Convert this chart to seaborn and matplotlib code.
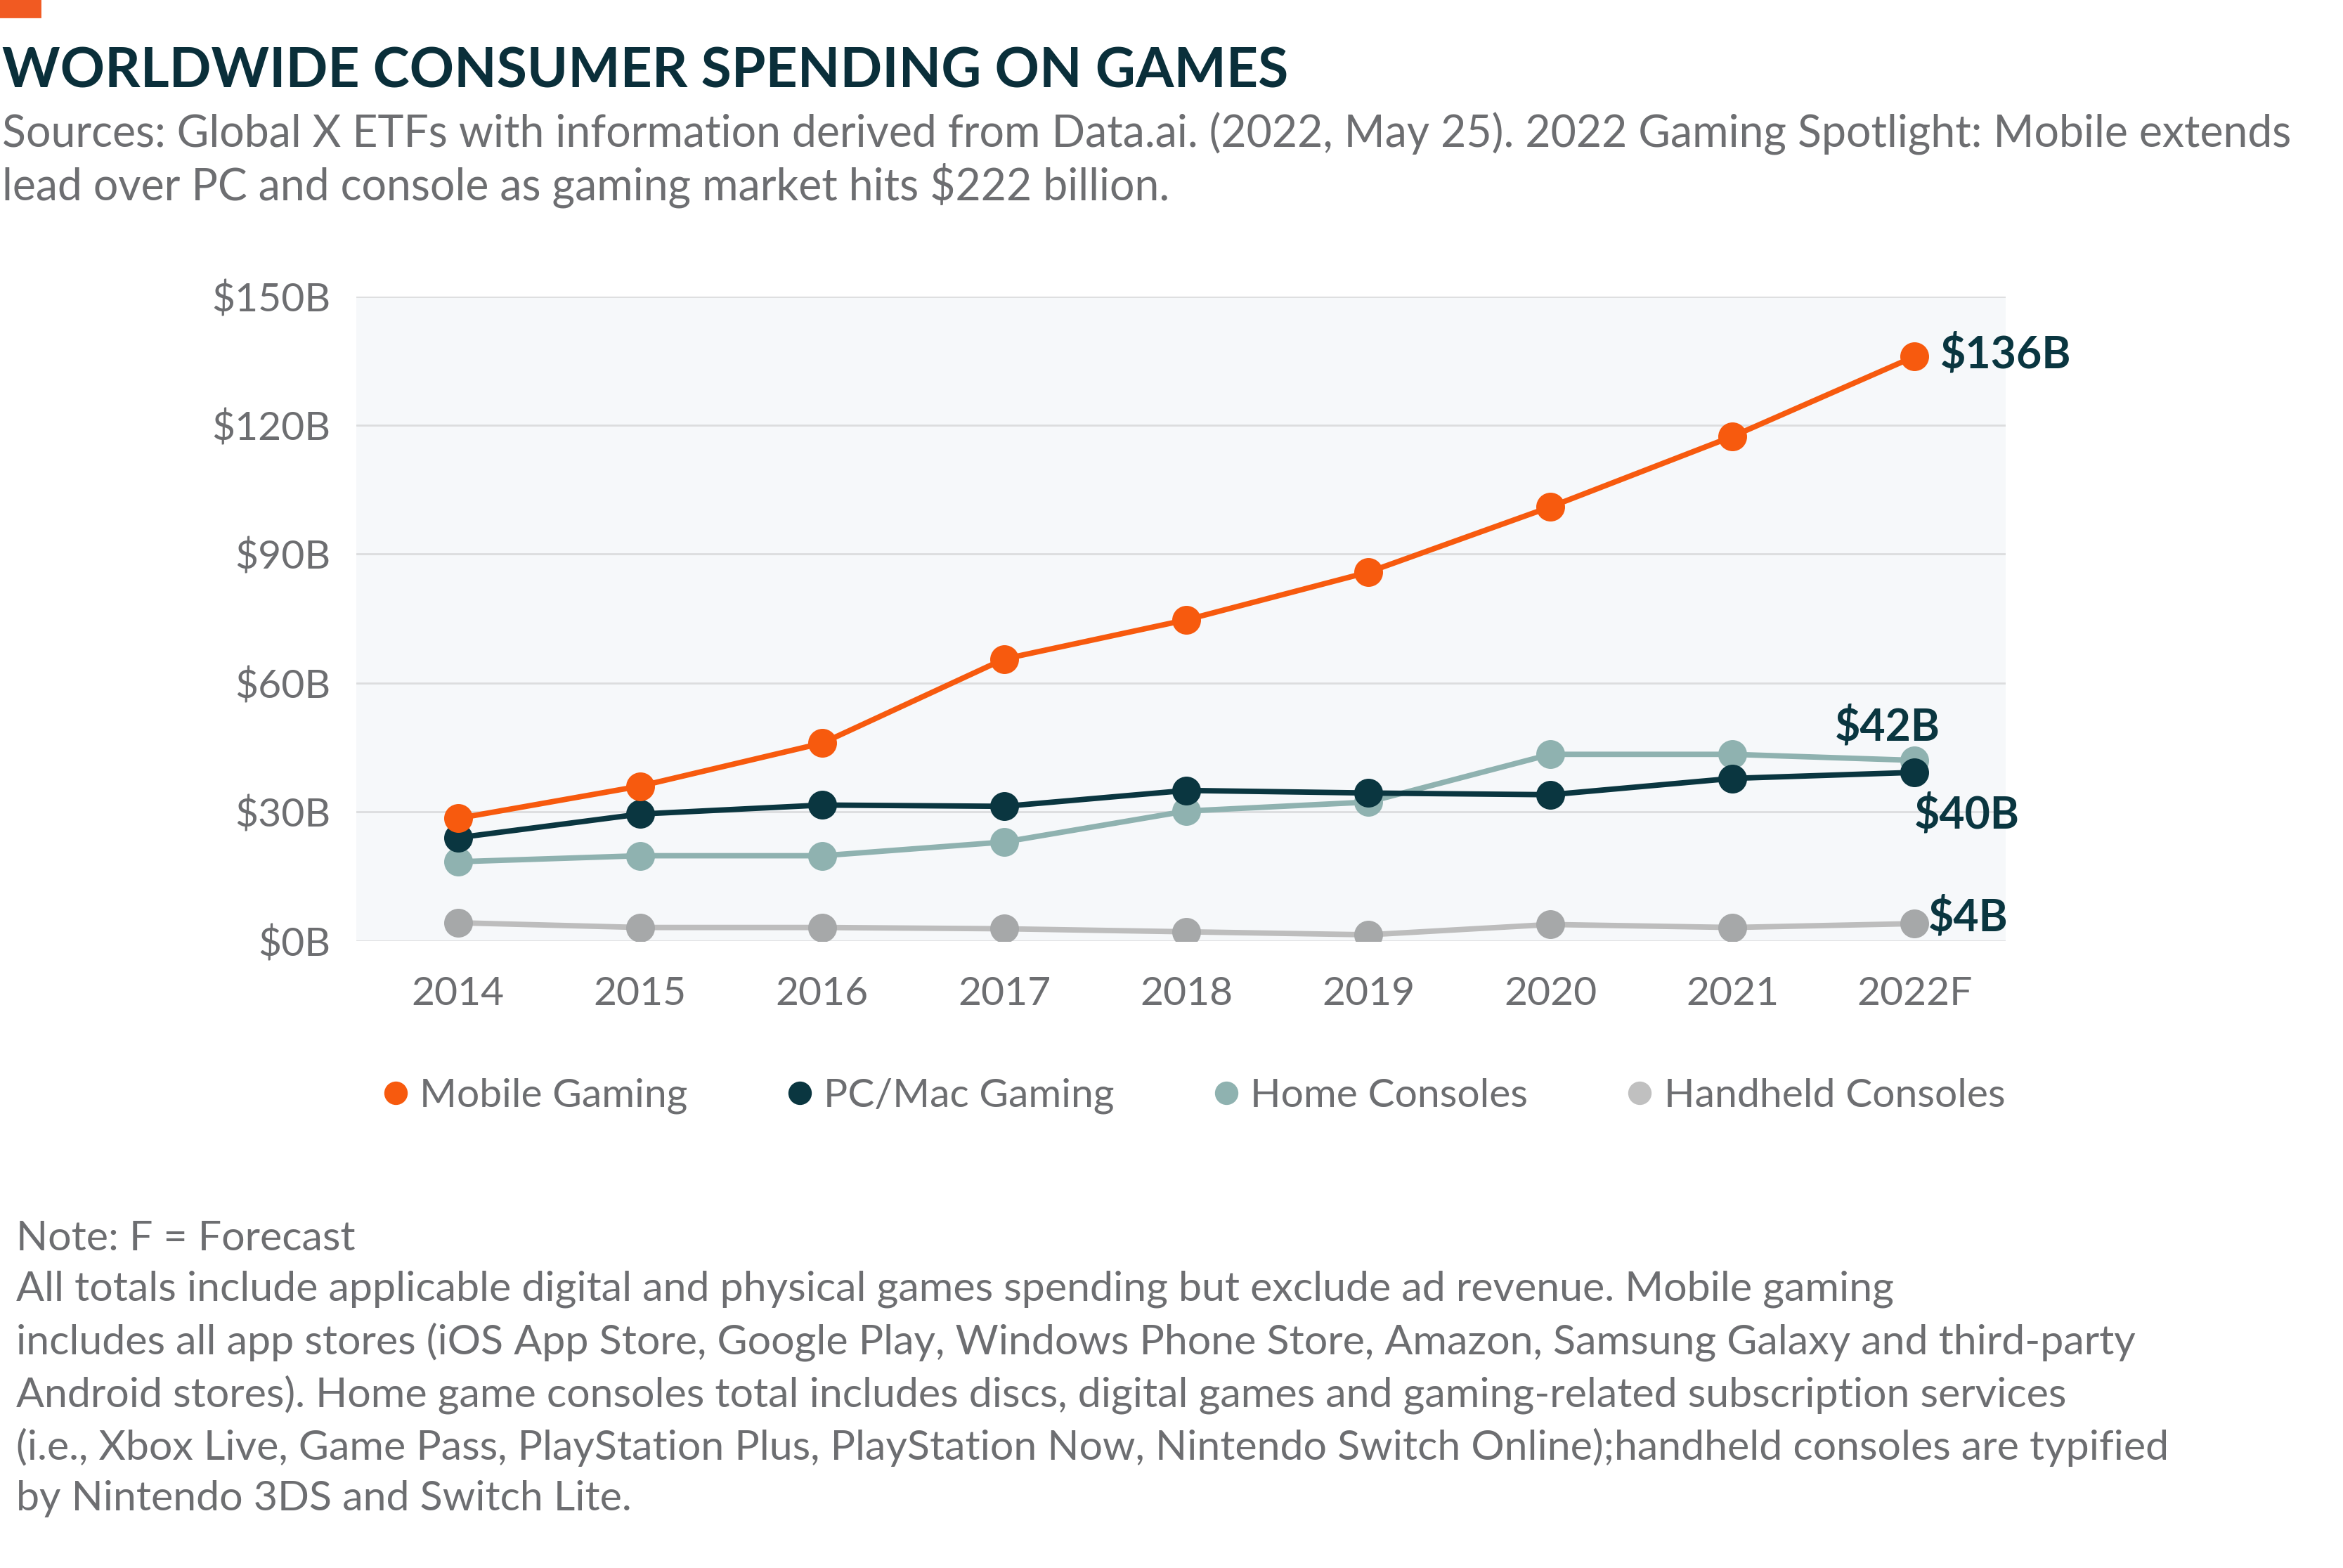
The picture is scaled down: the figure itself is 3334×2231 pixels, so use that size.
import matplotlib
matplotlib.use("Agg")
import matplotlib.pyplot as plt
import seaborn as sns
import pandas as pd
from matplotlib.lines import Line2D
from matplotlib.patches import Rectangle

years = ["2014", "2015", "2016", "2017", "2018", "2019", "2020", "2021", "2022F"]
mobile = [28.5, 36, 46, 65.6, 74.7, 85.8, 101, 117.4, 136]
pcmac = [24, 29.5, 31.6, 31.3, 35, 34.4, 34, 37.8, 39.2]
home = [18.4, 19.8, 19.8, 23, 30.2, 32.3, 43.4, 43.4, 42]
handheld = [4.2, 3.1, 3.1, 2.8, 2.1, 1.4, 3.8, 3.1, 4]
series_names = ["Mobile Gaming", "PC/Mac Gaming", "Home Consoles", "Handheld Consoles"]
yticks = [0, 30, 60, 90, 120, 150]
ytick_labels = ["$0B", "$30B", "$60B", "$90B", "$120B", "$150B"]
end_labels = ["$136B", "$40B", "$42B", "$4B"]

line_colors = ["#F75A0E", "#0A3640", "#8FB2B0", "#BDBDBD"]
marker_colors = ["#F75A0E", "#0A3640", "#8FB2B0", "#A6A8A9"]
legend_colors = ["#F75A0E", "#0A3640", "#8FB2B0", "#C0C0C0"]

sns.set_theme(style="white")
plt.rcParams['font.family'] = ['Lato', 'DejaVu Sans']

rows = []
for name, vals in zip(series_names, [mobile, pcmac, home, handheld]):
    for i, v in enumerate(vals):
        rows.append({"x": i, "year": years[i], "value": v, "series": name})
df = pd.DataFrame(rows)

fig = plt.figure(figsize=(16.67, 11.155), dpi=200)
ax = fig.add_axes([0.152, 0.400, 0.704, 0.411])
ax.set_facecolor("#F6F8FA")

for name, lc, mc in zip(series_names[::-1], line_colors[::-1], marker_colors[::-1]):
    sub = df[df.series == name]
    sns.lineplot(data=sub, x="x", y="value", ax=ax, color=lc, linewidth=2.8,
                 marker="o", markersize=14, markerfacecolor=mc,
                 markeredgecolor=mc, legend=False)

ax.set_xlim(-0.56, 8.5)
ax.set_ylim(0, 150)
ax.set_yticks(yticks)
ax.set_yticklabels(ytick_labels)
ax.set_xticks(range(len(years)))
ax.set_xticklabels(years)
ax.grid(axis="y", color="#DCDDDE", linewidth=1.0)
ax.set_axisbelow(True)
for s in ax.spines.values():
    s.set_visible(False)
ax.tick_params(axis="both", length=0, labelsize=20.5, labelcolor="#6D6E71")
ax.tick_params(axis="y", pad=13)
ax.tick_params(axis="x", pad=18)
ax.set_xlabel("")
ax.set_ylabel("")

lab_color = "#0A3640"
lab_fs = 22.5
ax.annotate(end_labels[0], (8, mobile[8]), xytext=(13, 1), textcoords="offset points",
            ha="left", va="center", fontsize=lab_fs, fontweight="bold", color=lab_color)
ax.annotate(end_labels[1], (8, pcmac[8]), xytext=(0, -22), textcoords="offset points",
            ha="left", va="center", fontsize=lab_fs, fontweight="bold", color=lab_color)
ax.annotate(end_labels[2], (8, home[8]), xytext=(-14, 17), textcoords="offset points",
            ha="center", va="center", fontsize=lab_fs, fontweight="bold", color=lab_color)
ax.annotate(end_labels[3], (8, handheld[8]), xytext=(7, 3), textcoords="offset points",
            ha="left", va="center", fontsize=lab_fs, fontweight="bold", color=lab_color)

handles = [Line2D([], [], linestyle="none", marker="o", markersize=11,
                  markerfacecolor=c, markeredgecolor=c) for c in legend_colors]
fig.legend(handles, series_names, loc="center", bbox_to_anchor=(0.508, 0.301),
           ncol=4, frameon=False, fontsize=20.5, labelcolor="#6D6E71",
           handletextpad=0.1, columnspacing=2.3, handlelength=1.0)

fig.patches.append(Rectangle((0, 1 - 24 / 2231), 57 / 3334, 24 / 2231,
                             transform=fig.transFigure, color="#F15A22"))

fig.text(0.001, 0.954, "WORLDWIDE CONSUMER SPENDING ON GAMES", fontsize=28.3,
         fontweight="bold", color="#0A2F3A", ha="left", va="center")
fig.text(0.001, 0.898,
         "Sources: Global X ETFs with information derived from Data.ai. (2022, May 25). 2022 Gaming Spotlight: Mobile extends\nlead over PC and console as gaming market hits $222 billion.",
         fontsize=22.5, color="#6D6E71", ha="left", va="center", linespacing=1.2)

note = ("Note: F = Forecast\n"
        "All totals include applicable digital and physical games spending but exclude ad revenue. Mobile gaming\n"
        "includes all app stores (iOS App Store, Google Play, Windows Phone Store, Amazon, Samsung Galaxy and third-party\n"
        "Android stores). Home game consoles total includes discs, digital games and gaming-related subscription services\n"
        "(i.e., Xbox Live, Game Pass, PlayStation Plus, PlayStation Now, Nintendo Switch Online);handheld consoles are typified\n"
        "by Nintendo 3DS and Switch Lite.")
fig.text(0.007, 0.222, note, fontsize=21.3, color="#6D6E71", ha="left", va="top",
         linespacing=1.44)

fig.savefig("out.png", dpi=200, facecolor="white")
